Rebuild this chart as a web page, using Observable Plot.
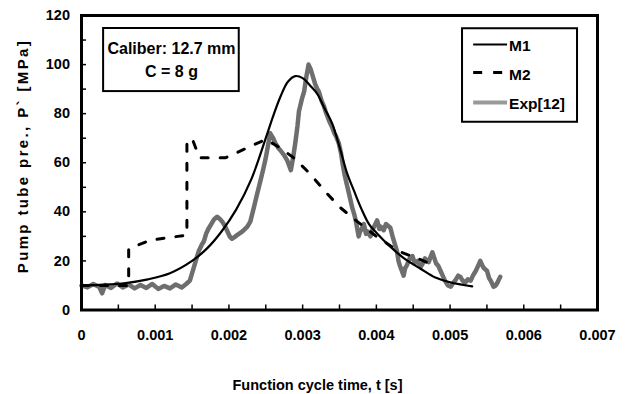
<!DOCTYPE html>
<html><head><meta charset="utf-8">
<script src="https://cdn.jsdelivr.net/npm/d3@7"></script>
<script src="https://cdn.jsdelivr.net/npm/@observablehq/plot@0.6"></script>
<style>
body{margin:0;background:#fff}
</style></head><body><div id="chart"></div>
<script>
// Model M1 (solid)
const m1T = [0, 0.0003, 0.0006, 0.0009, 0.0012, 0.0015, 0.0017, 0.0019, 0.0021, 0.0023, 0.0025, 0.0026, 0.0027, 0.0028, 0.0029, 0.003, 0.0031, 0.0032, 0.0033, 0.0034, 0.0035, 0.0036, 0.0037, 0.0038, 0.0039, 0.004, 0.0042, 0.0044, 0.0046, 0.0048, 0.005, 0.0053];
const m1P = [10, 10.3, 11, 12.5, 15, 20, 25, 32, 41, 53, 70, 79, 87, 93, 95.3, 94.5, 91.5, 88, 82, 76, 66.5, 56, 48.3, 41, 35, 31.5, 25.5, 20.5, 16.8, 13.2, 11.3, 9.6];
// Model M2 (dashed)
const m2T = [0, 0.00064, 0.00064, 0.00094, 0.00118, 0.00143, 0.00143, 0.0015, 0.0016, 0.00195, 0.0025, 0.0027, 0.0029, 0.0031, 0.0033, 0.0035, 0.0037, 0.004, 0.0043, 0.0046, 0.0048];
const m2P = [10, 10, 25, 28.5, 29.5, 30.5, 68, 70, 62, 62, 69.5, 66, 61.5, 55.5, 48.5, 42, 37, 30, 24, 20.5, 18];
// Experiment Exp[12] (grey)
const expT = [0, 0.00008, 0.00016, 0.00024, 0.00028, 0.00032, 0.0004, 0.00048, 0.00056, 0.00064, 0.00072, 0.0008, 0.00088, 0.00096, 0.00104, 0.00112, 0.0012, 0.00128, 0.00136, 0.00142, 0.00147, 0.00152, 0.00156, 0.00159, 0.00163, 0.00166, 0.00169, 0.00172, 0.00176, 0.0018, 0.00184, 0.00188, 0.00191, 0.00195, 0.00198, 0.00201, 0.00204, 0.00208, 0.00211, 0.00216, 0.0022, 0.00225, 0.00229, 0.00234, 0.00238, 0.00243, 0.00247, 0.0025, 0.00253, 0.00256, 0.0026, 0.00263, 0.00267, 0.0027, 0.00275, 0.00279, 0.00284, 0.00287, 0.0029, 0.00293, 0.00295, 0.00299, 0.00302, 0.00305, 0.00308, 0.00311, 0.00313, 0.00317, 0.0032, 0.00322, 0.00326, 0.00329, 0.00331, 0.00336, 0.0034, 0.00343, 0.00345, 0.00349, 0.00352, 0.00354, 0.00357, 0.0036, 0.00364, 0.00367, 0.0037, 0.00372, 0.00376, 0.00378, 0.0038, 0.00383, 0.00386, 0.00388, 0.00392, 0.00395, 0.00397, 0.00401, 0.00404, 0.00406, 0.0041, 0.00413, 0.00415, 0.00419, 0.00422, 0.00424, 0.00428, 0.0043, 0.00432, 0.00437, 0.00439, 0.00441, 0.00446, 0.00449, 0.00452, 0.00456, 0.0046, 0.00463, 0.00466, 0.00471, 0.00474, 0.00476, 0.00481, 0.00484, 0.00487, 0.0049, 0.00493, 0.00497, 0.00501, 0.00504, 0.00507, 0.00511, 0.00514, 0.00517, 0.0052, 0.00524, 0.00528, 0.00531, 0.00535, 0.00538, 0.00541, 0.00544, 0.00546, 0.0055, 0.00553, 0.00555, 0.00559, 0.00562, 0.00564, 0.00568];
const expP = [10, 9.2, 10.6, 9.4, 6.8, 10.2, 9.0, 10.8, 9.2, 10.4, 8.8, 10.2, 9.0, 10.6, 8.6, 9.8, 8.8, 10.4, 9.2, 10.6, 12, 17, 21, 24, 26.5, 28, 31, 33, 35, 37, 38, 37, 36, 34, 32, 30, 29, 29.8, 30.5, 31.5, 32.5, 34, 36, 42, 47, 53, 58, 62, 67, 72, 70, 68, 66, 65, 63, 61, 57, 62, 68, 75, 81, 86, 89, 95, 100, 98, 96, 92, 90, 89, 85, 83, 81, 77, 74.5, 72, 71, 68, 64, 60, 55, 51, 46, 42, 39, 36.5, 30, 32, 33, 35, 31, 32, 30, 33, 34, 36.5, 33, 34, 32.5, 35, 34.5, 33.5, 30, 28, 24, 20, 18, 14, 17, 18, 21.5, 22, 19, 20, 17.5, 19, 21, 19.5, 22, 23.5, 19, 18, 16, 14, 12, 10, 9.5, 11, 12, 14, 13.5, 12, 11, 12.5, 12, 14, 16, 18, 20, 18, 17, 16, 13, 12, 9.5, 10, 11, 13.5];

const xTicks = [0, 0.001, 0.002, 0.003, 0.004, 0.005, 0.006, 0.007];
const xLabels = ["0", "0.001", "0.002", "0.003", "0.004", "0.005", "0.006", "0.007"];
const xMinor = [0.0005, 0.001, 0.0015, 0.002, 0.0025, 0.003, 0.0035, 0.004, 0.0045, 0.005, 0.0055, 0.006, 0.0065];
const yTicks = [0, 20, 40, 60, 80, 100, 120];
const yMinor = [10, 20, 30, 40, 50, 60, 70, 80, 90, 100, 110];

const xTitle = "Function cycle time, t [s]";
const yTitle = "Pump tube pre., P` [MPa]";
const noteLines = ["Caliber: 12.7 mm", "C = 8 g"];
const seriesNames = ["M1", "M2", "Exp[12]"];

const m1 = m1T.map((t, i) => ({t, p: m1P[i]}));
const m2 = m2T.map((t, i) => ({t, p: m2P[i]}));
const ex = expT.map((t, i) => ({t, p: expP[i]}));

const font = "'Liberation Sans', Arial, sans-serif";
const plot = Plot.plot({
  width: 631, height: 394,
  marginLeft: 81, marginRight: 34, marginTop: 15, marginBottom: 84.5,
  style: {fontFamily: font, fontWeight: "bold", fontSize: "14px", background: "#fff", color: "#000"},
  x: {domain: [0, 0.007]},
  y: {domain: [0, 120]},
  marks: [
    Plot.axisX({ticks: xTicks, tickSize: 0, tickPadding: 20, tickFormat: d => xLabels[xTicks.indexOf(d)], label: null, fontSize: 14.5, fontWeight: "bold"}),
    Plot.axisY({ticks: yTicks, tickSize: 0, tickPadding: 11.5, label: null, fontSize: 14.5, fontWeight: "bold"}),
    Plot.ruleX(xMinor, {x: d => d, y1: 0, y2: 0, insetTop: -5, strokeWidth: 1.5}),
    Plot.ruleY(yMinor, {y: d => d, x1: 0, x2: 0, insetRight: -5, strokeWidth: 1.5}),
    Plot.line(ex, {x: "t", y: "p", stroke: "#555", strokeWidth: 4.5, strokeOpacity: 0.85, strokeLinejoin: "round"}),
    Plot.line(m2, {x: "t", y: "p", stroke: "#000", strokeWidth: 3, strokeDasharray: "7,12"}),
    Plot.line(m1, {x: "t", y: "p", stroke: "#000", strokeWidth: 2.2, curve: "catmull-rom"}),
    // annotation box
    Plot.rect([noteLines], {x1: 0.0003, x2: 0.00214, y1: 89, y2: 114.7, fill: "#fff", stroke: "#000", strokeWidth: 2}),
    Plot.text(noteLines, {x: 0.001221, y: [106.4, 96.9], text: d => d, fontSize: 16, fontWeight: "bold"}),
    // legend
    Plot.rect([seriesNames], {x1: 0.005169, x2: 0.006729, y1: 76.5, y2: 114.6, fill: "#fff", stroke: "#000", strokeWidth: 2}),
    Plot.ruleY([108.2], {x1: 0.00532, x2: 0.00578, stroke: "#000", strokeWidth: 2}),
    Plot.ruleY([96.8], {x1: 0.00532, x2: 0.00578, stroke: "#000", strokeWidth: 3, strokeDasharray: "9,11"}),
    Plot.ruleY([84.5], {x1: 0.00532, x2: 0.00578, stroke: "#999", strokeWidth: 4}),
    Plot.text(seriesNames, {x: 0.0058, y: [107.7, 95.6, 84], text: d => d, textAnchor: "start", fontSize: 15.5, fontWeight: "bold"}),
    Plot.frame({strokeWidth: 3}),
    Plot.text([xTitle], {frameAnchor: "bottom", dx: -22, dy: 75, lineAnchor: "middle", fontSize: 14.5, fontWeight: "bold"}),
    Plot.text([yTitle], {frameAnchor: "left", textAnchor: "middle", dx: -58, dy: -5.5, rotate: -90, fontSize: 15, fontWeight: "bold"})
  ]
});
d3.select(plot).selectAll("text")
  .filter(function() { return this.textContent === yTitle; })
  .attr("textLength", 232)
  .attr("lengthAdjust", "spacing");
document.getElementById("chart").append(plot);
</script></body></html>
